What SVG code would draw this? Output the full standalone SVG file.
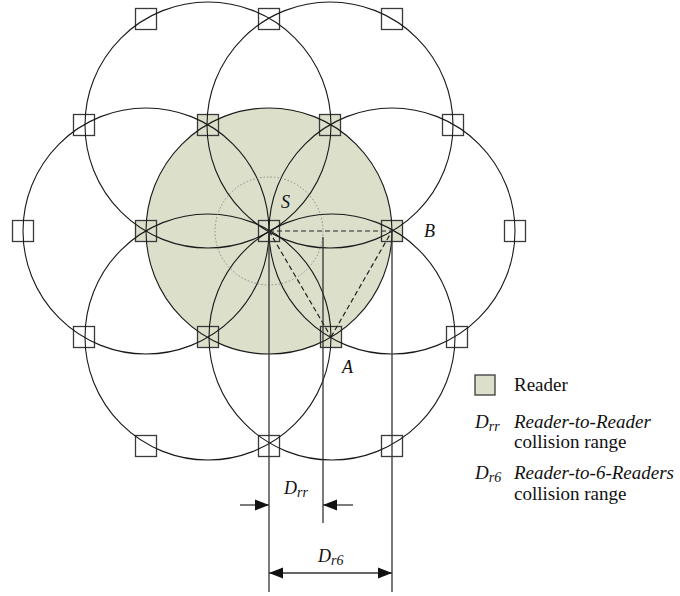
<svg xmlns="http://www.w3.org/2000/svg" width="680" height="596" viewBox="0 0 680 596">
<style>
.circ{fill:none;stroke:#1a1a1a;stroke-width:1.1}
.sq{fill:#ffffff;stroke:#3a3a3a;stroke-width:1.3}
.sqr{fill:#dce0cb;stroke:#3a3a3a;stroke-width:1.3}
.dash{fill:none;stroke:#222;stroke-width:1.2;stroke-dasharray:5 3}
.dim{fill:none;stroke:#333;stroke-width:1.3}
.lbl{font-family:"Liberation Serif","Times New Roman",serif;font-style:italic;font-size:18px;fill:#111}
.leg{font-family:"Liberation Serif","Times New Roman",serif;font-size:19px;fill:#111}
.legi{font-family:"Liberation Serif","Times New Roman",serif;font-style:italic;font-size:19px;fill:#111}
.sub{font-size:14px}
</style>
<defs>
<marker id="ah" markerUnits="userSpaceOnUse" markerWidth="14" markerHeight="12" refX="14" refY="6" orient="auto-start-reverse">
<path d="M0,0.5 L14,6 L0,11.5 Z" fill="#111"/>
</marker>
</defs>

<g id="coverage">
<circle cx="269" cy="231" r="123" fill="#dce0cb"/>
</g>

<g id="readers">
<rect class="sq" x="135.5" y="8.5" width="21" height="21"/>
<rect class="sq" x="258.5" y="8.5" width="21" height="21"/>
<rect class="sq" x="381.5" y="8.5" width="21" height="21"/>
<rect class="sq" x="73.5" y="114.5" width="21" height="21"/>
<rect class="sqr" x="197.5" y="114.5" width="21" height="21"/>
<rect class="sqr" x="319.5" y="114.5" width="21" height="21"/>
<rect class="sq" x="442.5" y="114.5" width="21" height="21"/>
<rect class="sq" x="12.5" y="220.5" width="21" height="21"/>
<rect class="sqr" x="135.5" y="220.5" width="21" height="21"/>
<rect class="sqr" x="258.5" y="220.5" width="21" height="21"/>
<rect class="sqr" x="381.5" y="220.5" width="21" height="21"/>
<rect class="sq" x="504.5" y="220.5" width="21" height="21"/>
<rect class="sq" x="73.5" y="326.5" width="21" height="21"/>
<rect class="sqr" x="197.5" y="326.5" width="21" height="21"/>
<rect class="sqr" x="320.5" y="326.5" width="21" height="21"/>
<rect class="sq" x="446.5" y="326.5" width="21" height="21"/>
<rect class="sq" x="135.5" y="435.5" width="21" height="21"/>
<rect class="sq" x="258.5" y="435.5" width="21" height="21"/>
<rect class="sq" x="381.5" y="435.5" width="21" height="21"/>
</g>

<g id="ranges">
<circle class="circ" cx="269" cy="231" r="123"/>
<circle class="circ" cx="146" cy="231" r="123"/>
<circle class="circ" cx="392" cy="231" r="123"/>
<circle class="circ" cx="208" cy="125" r="123"/>
<circle class="circ" cx="330" cy="125" r="123"/>
<circle class="circ" cx="208" cy="337" r="123"/>
<circle class="circ" cx="332" cy="337" r="123"/>
<circle cx="269" cy="231" r="54" fill="none" stroke="#8a8a8a" stroke-width="1" stroke-dasharray="1.5 2"/>
</g>

<g id="connectors">
<line class="dash" x1="269" y1="231" x2="392" y2="231"/>
<line class="dash" x1="269" y1="231" x2="331" y2="337"/>
<line class="dash" x1="331" y1="337" x2="392" y2="231"/>
<line class="dim" x1="269" y1="231" x2="269" y2="592"/>
<line class="dim" x1="323" y1="237" x2="323" y2="523"/>
<line class="dim" x1="392" y1="231" x2="392" y2="592"/>
<line class="dim" x1="240" y1="505" x2="269" y2="505" marker-end="url(#ah)"/>
<line class="dim" x1="353" y1="505" x2="323" y2="505" marker-end="url(#ah)"/>
<line class="dim" x1="269" y1="573" x2="392" y2="573" marker-start="url(#ah)" marker-end="url(#ah)"/>
</g>

<g id="labels">
<text class="lbl" x="281" y="208">S</text>
<text class="lbl" x="424" y="237">B</text>
<text class="lbl" x="342" y="373">A</text>
<text class="lbl" x="284" y="494">D<tspan class="sub" dy="3">rr</tspan></text>
<text class="lbl" x="318" y="562">D<tspan class="sub" dy="3">r6</tspan></text>
</g>

<g id="legend">
<rect x="475" y="375" width="20" height="20" fill="#dce0cb" stroke="#3a3a3a" stroke-width="1.3"/>
<text class="leg" x="514" y="391">Reader</text>
<text class="legi" x="475" y="428">D<tspan class="sub" dy="3">rr</tspan></text>
<text class="legi" x="514" y="428">Reader-to-Reader</text>
<text class="leg" x="514" y="448">collision range</text>
<text class="legi" x="475" y="479">D<tspan class="sub" dy="3">r6</tspan></text>
<text class="legi" x="514" y="479">Reader-to-6-Readers</text>
<text class="leg" x="514" y="500">collision range</text>
</g>
</svg>
